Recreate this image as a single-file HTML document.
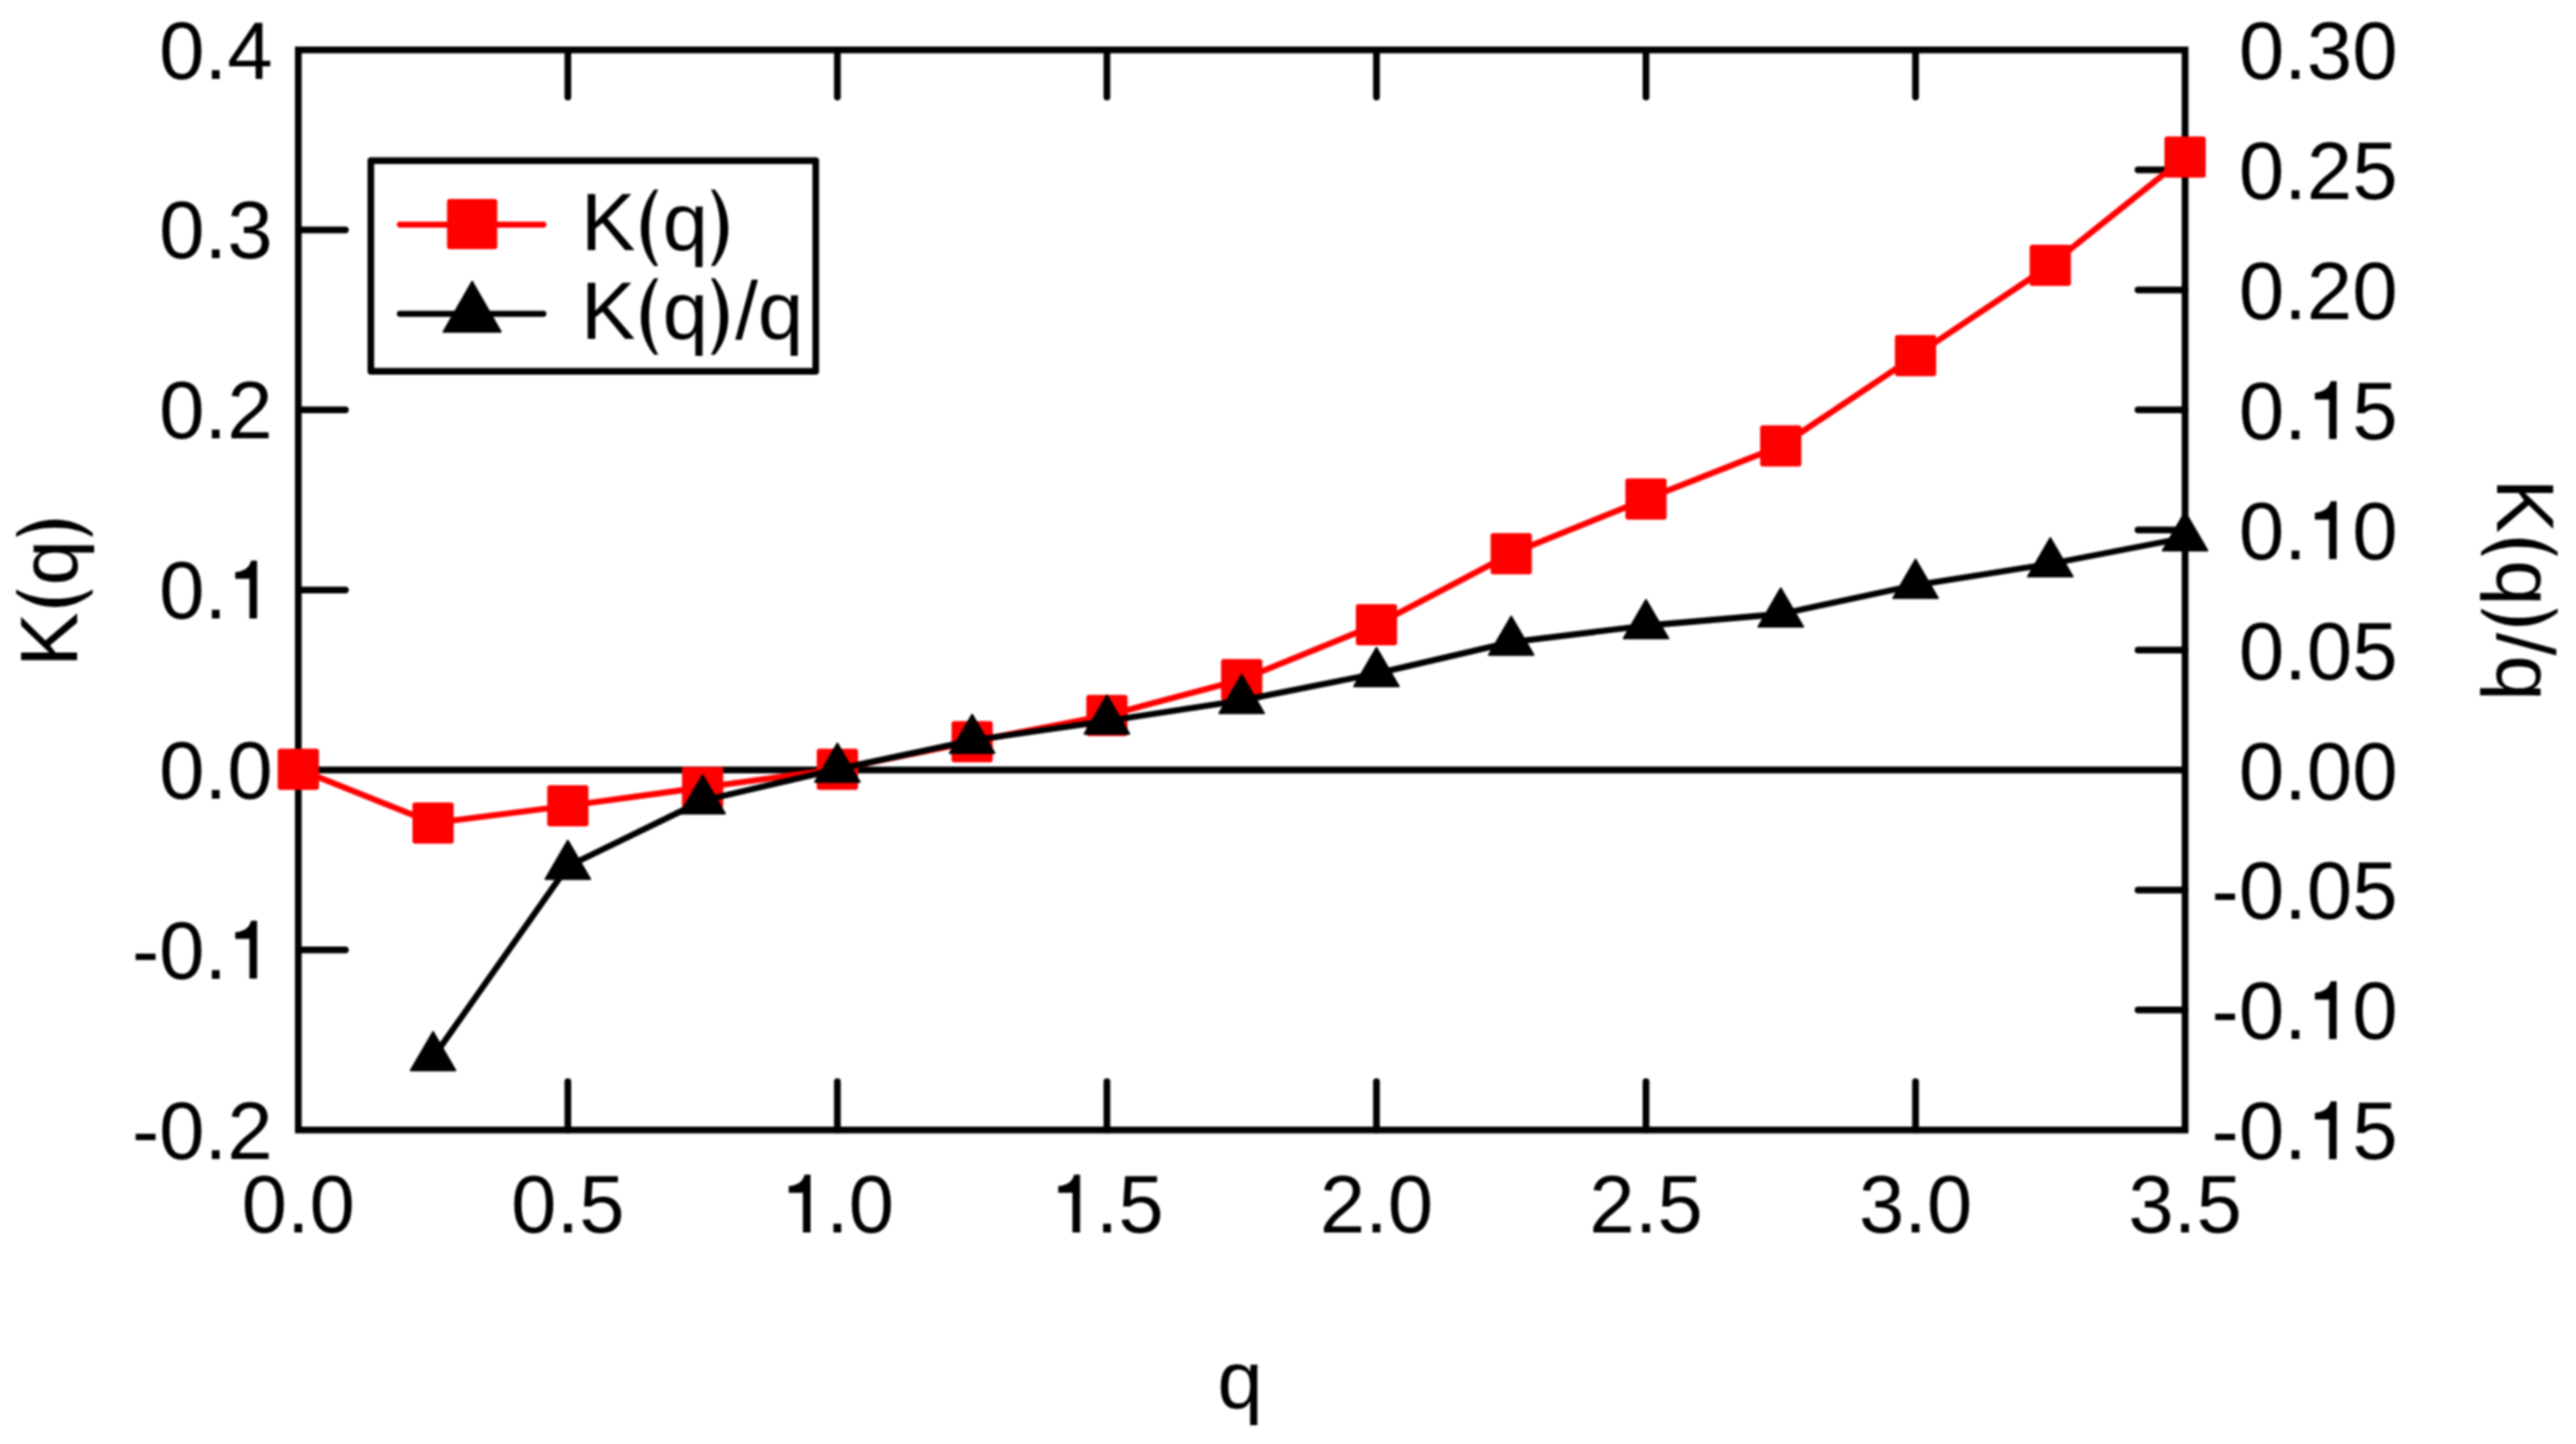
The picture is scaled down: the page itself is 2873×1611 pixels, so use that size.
<!DOCTYPE html><html><head><meta charset="utf-8"><style>
html,body{margin:0;padding:0;background:#fff;width:2873px;height:1611px;overflow:hidden}
svg{display:block;filter:blur(0.9px)}text{font-family:"Liberation Sans",sans-serif;fill:#000}
</style></head><body>
<svg width="2873" height="1611" viewBox="0 0 2873 1611">
<rect width="2873" height="1611" fill="#fff"/>
<g stroke="#000" stroke-width="7.5" fill="none" stroke-linecap="round">
<line x1="332.7" y1="256.533" x2="385.2" y2="256.533"/>
<line x1="332.7" y1="457.367" x2="385.2" y2="457.367"/>
<line x1="332.7" y1="658.2" x2="385.2" y2="658.2"/>
<line x1="332.7" y1="1059.87" x2="385.2" y2="1059.87"/>
<line x1="2437" y1="189.589" x2="2384.5" y2="189.589"/>
<line x1="2437" y1="323.478" x2="2384.5" y2="323.478"/>
<line x1="2437" y1="457.367" x2="2384.5" y2="457.367"/>
<line x1="2437" y1="591.256" x2="2384.5" y2="591.256"/>
<line x1="2437" y1="725.144" x2="2384.5" y2="725.144"/>
<line x1="2437" y1="992.922" x2="2384.5" y2="992.922"/>
<line x1="2437" y1="1126.81" x2="2384.5" y2="1126.81"/>
<line x1="633.314" y1="55.7" x2="633.314" y2="108.2"/>
<line x1="633.314" y1="1260.7" x2="633.314" y2="1206.7"/>
<line x1="933.929" y1="55.7" x2="933.929" y2="108.2"/>
<line x1="933.929" y1="1260.7" x2="933.929" y2="1206.7"/>
<line x1="1234.54" y1="55.7" x2="1234.54" y2="108.2"/>
<line x1="1234.54" y1="1260.7" x2="1234.54" y2="1206.7"/>
<line x1="1535.16" y1="55.7" x2="1535.16" y2="108.2"/>
<line x1="1535.16" y1="1260.7" x2="1535.16" y2="1206.7"/>
<line x1="1835.77" y1="55.7" x2="1835.77" y2="108.2"/>
<line x1="1835.77" y1="1260.7" x2="1835.77" y2="1206.7"/>
<line x1="2136.39" y1="55.7" x2="2136.39" y2="108.2"/>
<line x1="2136.39" y1="1260.7" x2="2136.39" y2="1206.7"/>
<line x1="332.7" y1="859.033" x2="2437" y2="859.033" stroke-linecap="butt"/>
<rect x="332.7" y="55.7" width="2104.3" height="1205" stroke-linejoin="miter" stroke-linecap="butt"/>
</g>
<polyline points="332.7,858.2 483.007,918.2 633.314,899 783.621,878.5 933.929,858.2 1084.24,827.4 1234.54,798.2 1384.85,758.2 1535.16,696.9 1685.46,617.7 1835.77,556.8 1986.08,497.6 2136.39,396.8 2286.69,295.9 2437,175.3" fill="none" stroke="#f00" stroke-width="6.8" stroke-linejoin="round"/>
<rect x="309.7" y="835.2" width="46" height="46" rx="3" fill="#f00"/>
<rect x="460.007" y="895.2" width="46" height="46" rx="3" fill="#f00"/>
<rect x="610.314" y="876" width="46" height="46" rx="3" fill="#f00"/>
<rect x="760.621" y="855.5" width="46" height="46" rx="3" fill="#f00"/>
<rect x="910.929" y="835.2" width="46" height="46" rx="3" fill="#f00"/>
<rect x="1061.24" y="804.4" width="46" height="46" rx="3" fill="#f00"/>
<rect x="1211.54" y="775.2" width="46" height="46" rx="3" fill="#f00"/>
<rect x="1361.85" y="735.2" width="46" height="46" rx="3" fill="#f00"/>
<rect x="1512.16" y="673.9" width="46" height="46" rx="3" fill="#f00"/>
<rect x="1662.46" y="594.7" width="46" height="46" rx="3" fill="#f00"/>
<rect x="1812.77" y="533.8" width="46" height="46" rx="3" fill="#f00"/>
<rect x="1963.08" y="474.6" width="46" height="46" rx="3" fill="#f00"/>
<rect x="2113.39" y="373.8" width="46" height="46" rx="3" fill="#f00"/>
<rect x="2263.69" y="272.9" width="46" height="46" rx="3" fill="#f00"/>
<rect x="2414" y="152.3" width="46" height="46" rx="3" fill="#f00"/>
<polyline points="483.007,1179.8 633.314,966.5 783.621,893.3 933.929,858.1 1084.24,826 1234.54,804.4 1384.85,781.3 1535.16,751.4 1685.46,716.4 1835.77,698 1986.08,685 2136.39,652.8 2286.69,629 2437,600" fill="none" stroke="#000" stroke-width="6.8" stroke-linejoin="round"/>
<path d="M483.007 1151.13L508.007 1194.13L458.007 1194.13Z" fill="#000" stroke="#000" stroke-width="2" stroke-linejoin="round"/>
<path d="M633.314 937.833L658.314 980.833L608.314 980.833Z" fill="#000" stroke="#000" stroke-width="2" stroke-linejoin="round"/>
<path d="M783.621 864.633L808.621 907.633L758.621 907.633Z" fill="#000" stroke="#000" stroke-width="2" stroke-linejoin="round"/>
<path d="M933.929 829.433L958.929 872.433L908.929 872.433Z" fill="#000" stroke="#000" stroke-width="2" stroke-linejoin="round"/>
<path d="M1084.24 797.333L1109.24 840.333L1059.24 840.333Z" fill="#000" stroke="#000" stroke-width="2" stroke-linejoin="round"/>
<path d="M1234.54 775.733L1259.54 818.733L1209.54 818.733Z" fill="#000" stroke="#000" stroke-width="2" stroke-linejoin="round"/>
<path d="M1384.85 752.633L1409.85 795.633L1359.85 795.633Z" fill="#000" stroke="#000" stroke-width="2" stroke-linejoin="round"/>
<path d="M1535.16 722.733L1560.16 765.733L1510.16 765.733Z" fill="#000" stroke="#000" stroke-width="2" stroke-linejoin="round"/>
<path d="M1685.46 687.733L1710.46 730.733L1660.46 730.733Z" fill="#000" stroke="#000" stroke-width="2" stroke-linejoin="round"/>
<path d="M1835.77 669.333L1860.77 712.333L1810.77 712.333Z" fill="#000" stroke="#000" stroke-width="2" stroke-linejoin="round"/>
<path d="M1986.08 656.333L2011.08 699.333L1961.08 699.333Z" fill="#000" stroke="#000" stroke-width="2" stroke-linejoin="round"/>
<path d="M2136.39 624.133L2161.39 667.133L2111.39 667.133Z" fill="#000" stroke="#000" stroke-width="2" stroke-linejoin="round"/>
<path d="M2286.69 600.333L2311.69 643.333L2261.69 643.333Z" fill="#000" stroke="#000" stroke-width="2" stroke-linejoin="round"/>
<path d="M2437 571.333L2462 614.333L2412 614.333Z" fill="#000" stroke="#000" stroke-width="2" stroke-linejoin="round"/>
<g font-size="91">
<text x="177.50" y="87.50">0.4</text>
<text x="177.50" y="288.33">0.3</text>
<text x="177.50" y="489.17">0.2</text>
<text x="177.50" y="690.00">0.</text><path transform="translate(253.39 690.00) scale(0.09100 -0.09100)" d="M273 0H366V709H292C280 650 235 580 99 568V485H273Z"/>
<text x="177.50" y="890.83">0.0</text>
<text x="147.19" y="1091.67">-0.</text><path transform="translate(253.39 1091.67) scale(0.09100 -0.09100)" d="M273 0H366V709H292C280 650 235 580 99 568V485H273Z"/>
<text x="147.19" y="1292.50">-0.2</text>
<text x="2496.89" y="88.20">0.30</text>
<text x="2496.89" y="222.09">0.25</text>
<text x="2496.89" y="355.98">0.20</text>
<text x="2496.89" y="489.87">0.</text><path transform="translate(2572.78 489.87) scale(0.09100 -0.09100)" d="M273 0H366V709H292C280 650 235 580 99 568V485H273Z"/><text x="2623.39" y="489.87">5</text>
<text x="2496.89" y="623.76">0.</text><path transform="translate(2572.78 623.76) scale(0.09100 -0.09100)" d="M273 0H366V709H292C280 650 235 580 99 568V485H273Z"/><text x="2623.39" y="623.76">0</text>
<text x="2496.89" y="757.64">0.05</text>
<text x="2496.89" y="891.53">0.00</text>
<text x="2466.58" y="1025.42">-0.05</text>
<text x="2466.58" y="1159.31">-0.</text><path transform="translate(2572.78 1159.31) scale(0.09100 -0.09100)" d="M273 0H366V709H292C280 650 235 580 99 568V485H273Z"/><text x="2623.39" y="1159.31">0</text>
<text x="2466.58" y="1293.20">-0.</text><path transform="translate(2572.78 1293.20) scale(0.09100 -0.09100)" d="M273 0H366V709H292C280 650 235 580 99 568V485H273Z"/><text x="2623.39" y="1293.20">5</text>
<text x="269.45" y="1375.00">0.0</text>
<text x="570.06" y="1375.00">0.5</text>
<path transform="translate(870.68 1375.00) scale(0.09100 -0.09100)" d="M273 0H366V709H292C280 650 235 580 99 568V485H273Z"/><text x="921.29" y="1375.00">.0</text>
<path transform="translate(1171.29 1375.00) scale(0.09100 -0.09100)" d="M273 0H366V709H292C280 650 235 580 99 568V485H273Z"/><text x="1221.90" y="1375.00">.5</text>
<text x="1471.91" y="1375.00">2.0</text>
<text x="1772.52" y="1375.00">2.5</text>
<text x="2073.13" y="1375.00">3.0</text>
<text x="2373.75" y="1375.00">3.5</text>
<text x="1383" y="1571" text-anchor="middle">q</text>
<g transform="translate(85.6 658) rotate(-90)"><text x="-85.96" y="0.00">K</text><path transform="translate(-25.26 0.00) scale(0.09100 -0.09100)" d="M230 743C120 600 67 440 67 266C67 90 120 -60 230 -195L280 -195C200 -60 167 90 167 266C167 440 200 600 280 743Z"/><text x="5.04" y="0.00">q</text><path transform="translate(55.65 0.00) scale(0.09100 -0.09100)" d="M86 743C196 600 249 440 249 266C249 90 196 -60 86 -195L36 -195C116 -60 149 90 149 266C149 440 116 600 36 743Z"/></g>
<g transform="translate(2784.9 658) rotate(90)"><text x="-123.90" y="0.00">K</text><path transform="translate(-63.21 0.00) scale(0.09100 -0.09100)" d="M230 743C120 600 67 440 67 266C67 90 120 -60 230 -195L280 -195C200 -60 167 90 167 266C167 440 200 600 280 743Z"/><text x="-32.90" y="0.00">q</text><path transform="translate(17.71 0.00) scale(0.09100 -0.09100)" d="M86 743C196 600 249 440 249 266C249 90 196 -60 86 -195L36 -195C116 -60 149 90 149 266C149 440 116 600 36 743Z"/><text x="48.01" y="0.00">/q</text></g>
<text x="648.00" y="279.00">K</text><path transform="translate(708.70 279.00) scale(0.09100 -0.09100)" d="M230 743C120 600 67 440 67 266C67 90 120 -60 230 -195L280 -195C200 -60 167 90 167 266C167 440 200 600 280 743Z"/><text x="739.00" y="279.00">q</text><path transform="translate(789.61 279.00) scale(0.09100 -0.09100)" d="M86 743C196 600 249 440 249 266C249 90 196 -60 86 -195L36 -195C116 -60 149 90 149 266C149 440 116 600 36 743Z"/>
<text x="648.00" y="378.00">K</text><path transform="translate(708.70 378.00) scale(0.09100 -0.09100)" d="M230 743C120 600 67 440 67 266C67 90 120 -60 230 -195L280 -195C200 -60 167 90 167 266C167 440 200 600 280 743Z"/><text x="739.00" y="378.00">q</text><path transform="translate(789.61 378.00) scale(0.09100 -0.09100)" d="M86 743C196 600 249 440 249 266C249 90 196 -60 86 -195L36 -195C116 -60 149 90 149 266C149 440 116 600 36 743Z"/><text x="819.91" y="378.00">/q</text>
</g>
<rect x="413.6" y="179.2" width="496.2" height="235" fill="none" stroke="#000" stroke-width="7.4" stroke-linejoin="round"/>
<line x1="446" y1="250.6" x2="606" y2="250.6" stroke="#f00" stroke-width="6.8" stroke-linecap="round"/>
<line x1="446" y1="350.1" x2="606" y2="350.1" stroke="#000" stroke-width="6.8" stroke-linecap="round"/>
<rect x="498.6" y="222.1" width="56" height="56" rx="3" fill="#f00"/>
<path d="M526.6 314.167L558.6 370.167L494.6 370.167Z" fill="#000" stroke="#000" stroke-width="2" stroke-linejoin="round"/>
</svg></body></html>
